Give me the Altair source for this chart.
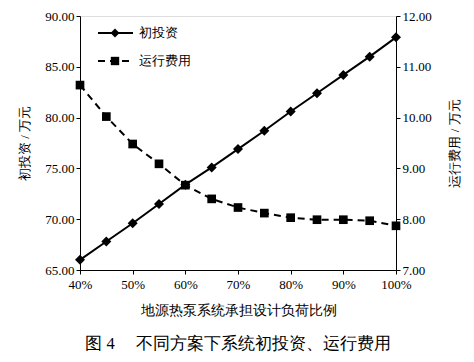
import altair as alt
import pandas as pd

ratio = [40, 45, 50, 55, 60, 65, 70, 75, 80, 85, 90, 95, 100]
invest = [66.0, 67.8, 69.6, 71.5, 73.4, 75.1, 76.9, 78.7, 80.6, 82.4, 84.2, 86.0, 87.9]
cost = [10.64, 10.02, 9.48, 9.09, 8.67, 8.40, 8.23, 8.12, 8.03, 7.99, 7.99, 7.97, 7.87]
x_ticks = [40, 50, 60, 70, 80, 90, 100]
left_ticks = [65, 70, 75, 80, 85, 90]
right_ticks = [7, 8, 9, 10, 11, 12]
series_names = ["初投资", "运行费用"]
x_title = "地源热泵系统承担设计负荷比例"
left_title = "初投资 / 万元"
right_title = "运行费用 / 万元"
caption = "图\u00a04\u3000\u00a0不同方案下系统初投资、运行费用"

df = pd.DataFrame({"ratio": ratio, "invest": invest, "cost": cost})
leg = pd.DataFrame({"name": series_names, "row": [0, 1]})

SERIF = "Liberation Serif"

xenc = alt.X("ratio:Q", scale=alt.Scale(domain=[40, 100], nice=False, zero=False),
             axis=alt.Axis(values=x_ticks, labelExpr="datum.value + '%'", title=x_title,
                           grid=False, tickSize=4, labelFontSize=13, titleFontSize=13.5,
                           titleFontWeight="normal", labelFont=SERIF, titleFont=SERIF,
                           titlePadding=12, labelPadding=4, labelFlush=False,
                           domainColor="black", tickColor="black", labelColor="black",
                           titleColor="black"))

yl = alt.Y("invest:Q", scale=alt.Scale(domain=[65, 90], nice=False, zero=False),
           axis=alt.Axis(values=left_ticks, format=".2f", title=left_title, grid=False,
                         tickSize=4, labelFontSize=13, titleFontSize=13, titleFontWeight="normal",
                         labelFont=SERIF, titleFont=SERIF, titlePadding=13, labelFlush=False,
                         domainColor="black", tickColor="black", labelColor="black",
                         titleColor="black"))
yr = alt.Y("cost:Q", scale=alt.Scale(domain=[7, 12], nice=False, zero=False),
           axis=alt.Axis(values=right_ticks, format=".2f", title=right_title, orient="right",
                         grid=False, tickSize=4, labelFontSize=13, titleFontSize=13,
                         titleFontWeight="normal", labelFont=SERIF, titleFont=SERIF,
                         titlePadding=30, titleAngle=270, labelFlush=False, domainColor="black",
                         tickColor="black", labelColor="black", titleColor="black"))

base = alt.Chart(df).encode(x=xenc)
left = alt.layer(
    base.mark_line(color="black", strokeWidth=2).encode(y=yl),
    base.mark_point(shape="diamond", filled=True, color="black", size=100, opacity=1).encode(y=yl),
)
right = alt.layer(
    base.mark_line(color="black", strokeWidth=2, strokeDash=[7, 5]).encode(y=yr),
    base.mark_point(shape="square", filled=True, color="black", size=75, opacity=1).encode(y=yr),
)

lbase = alt.Chart(leg)
ly = alt.Y("row:Q", scale=alt.Scale(domain=[0, 1], range=[17, 45]), axis=None)
leg_inv = alt.layer(
    lbase.transform_filter("datum.row == 0").mark_rule(color="black", strokeWidth=2).encode(
        x=alt.value(18), x2=alt.value(53), y=ly),
    lbase.transform_filter("datum.row == 0").mark_point(shape="diamond", filled=True, color="black",
                                                        size=80, opacity=1).encode(x=alt.value(35), y=ly),
)
leg_cost = alt.layer(
    lbase.transform_filter("datum.row == 1").mark_rule(color="black", strokeWidth=2, strokeDash=[7, 5]).encode(
        x=alt.value(18), x2=alt.value(53), y=ly),
    lbase.transform_filter("datum.row == 1").mark_point(shape="square", filled=True, color="black",
                                                        size=70, opacity=1).encode(x=alt.value(35), y=ly),
)
leg_text = lbase.mark_text(align="left", baseline="middle", fontSize=13, font=SERIF, color="black").encode(
    x=alt.value(59), y=ly, text="name:N")

legend = alt.layer(leg_inv, leg_cost, leg_text)

chart = alt.layer(left, right, legend).resolve_scale(y="independent").properties(
    width=316, height=254,
    autosize=alt.AutoSizeParams(type="none"),
    padding={"left": 72, "top": 8, "right": 70, "bottom": 84},
    title=alt.TitleParams(caption, orient="bottom", fontSize=16.5, fontWeight="normal",
                          font=SERIF, color="black", offset=19),
).configure_view(stroke=None).configure(background="white")

chart.save("out.html", embed_options={"renderer": "svg", "actions": False})
